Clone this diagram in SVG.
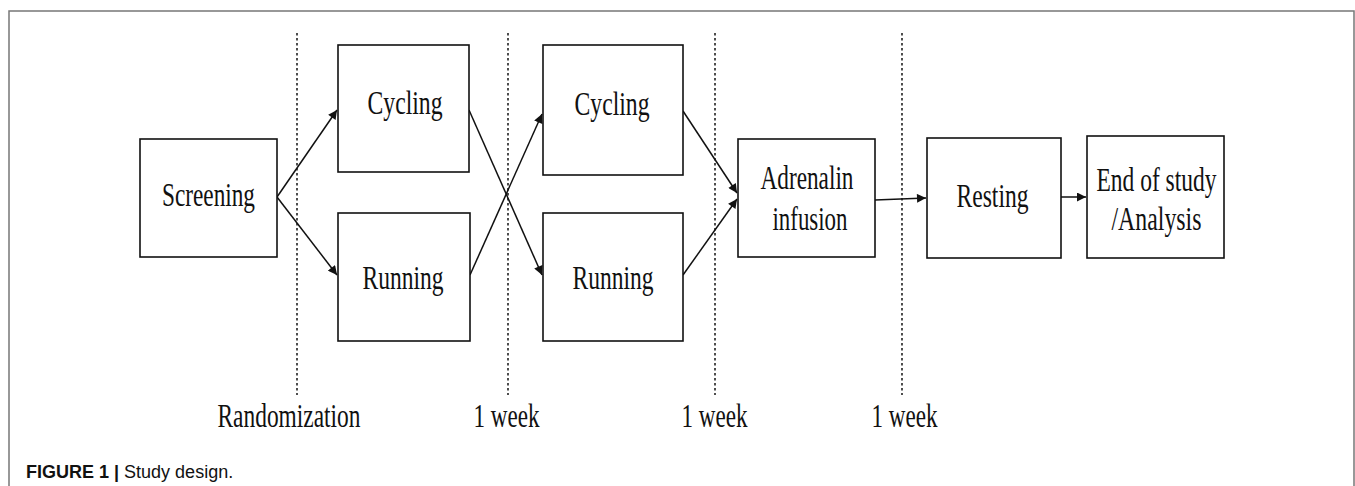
<svg xmlns="http://www.w3.org/2000/svg" width="1355" height="486" viewBox="0 0 1355 486">
<defs>
<style>
.box{fill:#fff;stroke:#111;stroke-width:1.6}
.t{font-family:"Liberation Serif","Times New Roman",serif;font-size:33px;fill:#111;text-anchor:middle}
.div{stroke:#222;stroke-width:1.6;stroke-dasharray:2.5 2.5}
.c{stroke:#111;stroke-width:1.5;fill:none;marker-end:url(#ah)}
.frame{stroke:#777;stroke-width:1.5;fill:none}
.cap{font-family:"Liberation Sans",Arial,sans-serif;font-size:18px;fill:#111}
</style>
<marker id="ah" viewBox="0 0 10 10" refX="10" refY="5" markerWidth="10" markerHeight="9" markerUnits="userSpaceOnUse" orient="auto">
<path d="M0,0 L10,5 L0,10 z" fill="#111"/>
</marker>
</defs>
<rect width="1355" height="486" fill="#fff"/>
<path class="frame" d="M9,486 V11 H1354 V486"/>

<g id="dividers">
<line class="div" x1="297" y1="33" x2="297" y2="395"/>
<line class="div" x1="508" y1="33" x2="508" y2="395"/>
<line class="div" x1="715" y1="33" x2="715" y2="395"/>
<line class="div" x1="902" y1="33" x2="902" y2="395"/>
</g>

<g id="connectors">
<line class="c" x1="277" y1="197" x2="337" y2="110"/>
<line class="c" x1="277" y1="197" x2="337" y2="275"/>
<line class="c" x1="469" y1="110" x2="542" y2="275"/>
<line class="c" x1="470" y1="275" x2="542" y2="114"/>
<line class="c" x1="683" y1="111" x2="737" y2="193"/>
<line class="c" x1="683" y1="275" x2="737" y2="199"/>
<line class="c" x1="875" y1="200" x2="926" y2="198"/>
<line class="c" x1="1061" y1="197" x2="1086" y2="197"/>
</g>

<g id="screening"><rect class="box" x="140" y="139" width="137" height="118"/><text class="t" x="208.5" y="206" textLength="93" lengthAdjust="spacingAndGlyphs">Screening</text></g>
<g id="cycling1"><rect class="box" x="338" y="45" width="131" height="127"/><text class="t" x="405" y="114" textLength="75" lengthAdjust="spacingAndGlyphs">Cycling</text></g>
<g id="running1"><rect class="box" x="338" y="213" width="132" height="128"/><text class="t" x="403" y="289" textLength="81" lengthAdjust="spacingAndGlyphs">Running</text></g>
<g id="cycling2"><rect class="box" x="543" y="45" width="140" height="130"/><text class="t" x="612" y="115" textLength="75" lengthAdjust="spacingAndGlyphs">Cycling</text></g>
<g id="running2"><rect class="box" x="543" y="213" width="140" height="128"/><text class="t" x="613" y="289" textLength="81" lengthAdjust="spacingAndGlyphs">Running</text></g>
<g id="adrenalin"><rect class="box" x="738" y="139" width="137" height="118"/><text class="t" x="807" y="189" textLength="93" lengthAdjust="spacingAndGlyphs">Adrenalin</text><text class="t" x="810" y="230" textLength="75" lengthAdjust="spacingAndGlyphs">infusion</text></g>
<g id="resting"><rect class="box" x="927" y="138" width="134" height="120"/><text class="t" x="992.5" y="207" textLength="72" lengthAdjust="spacingAndGlyphs">Resting</text></g>
<g id="end"><rect class="box" x="1087" y="136" width="137" height="122"/><text class="t" x="1156.5" y="191" textLength="120" lengthAdjust="spacingAndGlyphs">End of study</text><text class="t" x="1156.5" y="230" textLength="90" lengthAdjust="spacingAndGlyphs">/Analysis</text></g>

<g id="labels">
<text class="t" x="289" y="427" textLength="143" lengthAdjust="spacingAndGlyphs">Randomization</text>
<text class="t" x="506.5" y="427" textLength="66" lengthAdjust="spacingAndGlyphs">1 week</text>
<text class="t" x="714.5" y="427" textLength="66" lengthAdjust="spacingAndGlyphs">1 week</text>
<text class="t" x="904.5" y="427" textLength="66" lengthAdjust="spacingAndGlyphs">1 week</text>
</g>

<text class="cap" x="26" y="478"><tspan font-weight="bold">FIGURE 1</tspan> <tspan font-weight="bold">|</tspan> Study design.</text>
</svg>
